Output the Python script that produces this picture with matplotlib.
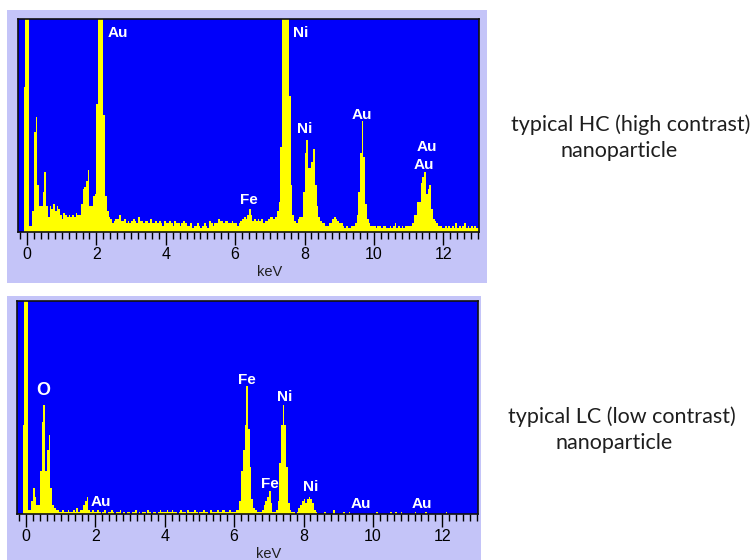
import numpy as np
import matplotlib
matplotlib.use("Agg")
import matplotlib.pyplot as plt
from matplotlib.patches import Rectangle
from matplotlib.ticker import MultipleLocator

# ---- spectrum data: counts per 0.05 keV channel (left channel edges), % of full scale ----
CHANNEL_START = -0.20
CHANNEL_WIDTH = 0.05

hc_counts = [
    0, 0, 68, 120,                                                          # -0.20 .. -0.05
    120, 3, 3, 10, 47, 54, 22, 12, 12, 19, 28, 12, 7, 12, 11, 13, 10, 12, 11, 8,   # 0
    6, 9, 8, 7, 8, 7, 8, 7, 9, 8, 8, 13, 20, 21, 24, 29, 12, 12, 17, 18,          # 1
    60, 120, 120, 120, 55, 17, 10, 7, 6, 4, 5, 6, 6, 8, 5, 5, 6, 4, 5, 4,         # 2
    5, 6, 5, 4, 7, 5, 5, 4, 5, 5, 4, 6, 4, 4, 5, 4, 5, 4, 3, 5,                   # 3
    4, 4, 5, 4, 3, 5, 4, 4, 3, 4, 5, 4, 3, 3, 4, 2, 3, 3, 4, 3,                   # 4
    2, 3, 4, 3, 2, 5, 4, 3, 4, 4, 6, 5, 5, 4, 5, 5, 4, 4, 5, 4,                   # 5
    4, 3, 4, 5, 6, 7, 6, 8, 11, 8, 5, 6, 5, 6, 5, 6, 4, 5, 5, 6,                  # 6
    7, 7, 6, 7, 10, 14, 40, 120, 120, 120, 120, 64, 22, 8, 5, 4, 6, 7, 7, 19,     # 7
    37, 43, 30, 30, 33, 39, 22, 12, 7, 5, 4, 4, 3, 3, 4, 4, 6, 7, 6, 5,           # 8
    4, 4, 3, 2, 3, 2, 2, 3, 3, 4, 8, 19, 37, 52, 35, 13, 6, 4, 3, 3,              # 9
    3, 2, 3, 3, 2, 3, 3, 2, 2, 3, 2, 3, 4, 2, 3, 2, 3, 2, 3, 3,                   # 10
    3, 3, 4, 8, 8, 14, 14, 23, 26, 28, 18, 20, 22, 11, 6, 5, 4, 3, 3, 2,          # 11
    2, 3, 2, 3, 2, 3, 2, 4, 2, 3, 2, 3, 4, 2, 3, 2, 3, 2, 3, 2,                   # 12
    2,                                                                      # 13
]

lc_counts = [
    0, 0, 42, 120,                                                          # -0.20 .. -0.05
    120, 2, 2, 6, 12, 8, 4, 4, 20, 43, 51, 20, 30, 37, 12, 4, 3, 2, 2, 1,         # 0
    1, 2, 1, 1, 2, 1, 1, 2, 1, 3, 1, 2, 2, 4, 6, 8, 2, 1, 2, 1,                   # 1
    1, 2, 1, 0, 1, 2, 0, 1, 1, 2, 1, 0, 1, 1, 2, 0, 1, 0, 1, 1,                   # 2
    0, 1, 1, 2, 0, 1, 0, 1, 1, 0, 2, 1, 0, 1, 1, 0, 1, 2, 1, 1,                   # 3
    1, 2, 1, 1, 2, 1, 1, 0, 1, 2, 1, 1, 0, 2, 1, 1, 1, 2, 1, 0,                   # 4
    1, 1, 2, 1, 1, 0, 2, 1, 1, 1, 2, 1, 1, 2, 2, 1, 1, 2, 1, 1,                   # 5
    1, 2, 2, 6, 20, 30, 42, 60, 40, 22, 7, 3, 2, 1, 1, 1, 2, 4, 6, 8,             # 6
    11, 5, 1, 1, 2, 6, 24, 42, 51, 42, 22, 5, 2, 1, 1, 0, 1, 3, 4, 6,             # 7
    7, 5, 7, 8, 7, 5, 2, 1, 0, 0, 0, 0, 1, 0, 0, 0, 0, 2, 0, 0,                   # 8
    0, 0, 0, 1, 0, 0, 1, 0, 0, 0, 0, 0, 0, 0, 0, 0, 0, 0, 0, 0,                   # 9
    0, 0, 1, 0, 0, 0, 0, 0, 0, 0, 1, 0, 0, 1, 0, 0, 1, 0, 0, 0,                   # 10
    0, 0, 0, 0, 1, 0, 0, 0, 0, 0, 1, 0, 0, 0, 0, 0, 0, 0, 0, 0,                   # 11
    0, 0, 1, 0, 0, 0, 0, 0, 0, 0, 0, 0, 0, 0, 0, 0, 0, 0, 0, 0,                   # 12
    0,                                                                      # 13
]

# ---- peak labels: (text, keV, height %) ----
hc_labels = ["Au", "Ni", "Ni", "Fe", "Au", "Au", "Au"]
hc_label_x = [2.61, 7.90, 8.01, 6.40, 9.65, 11.54, 11.43]
hc_label_y = [93.5, 93.5, 48.5, 15.0, 55.0, 40.0, 31.5]

lc_labels = ["O", "Au", "Fe", "Ni", "Fe", "Ni", "Au", "Au"]
lc_label_x = [0.50, 2.16, 6.37, 7.47, 7.02, 8.20, 9.65, 11.40]
lc_label_y = [58.0, 5.6, 63.0, 55.0, 14.0, 12.5, 4.7, 4.7]

tick_values = [0, 2, 4, 6, 8, 10, 12]
tick_labels = ["0", "2", "4", "6", "8", "10", "12"]

captions = [("typical HC (high contrast)", "nanoparticle"),
            ("typical LC (low contrast)", "nanoparticle")]

# ---- style ----
W, H = 756, 560
BLUE = "#0000FA"
YELLOW = "#FFFF00"
FRAME = "#C4C4F8"
TEXT = "#1E1E1E"
XLIM = (-0.26, 13.03)


def fx(px):
    return px / W


def fy(py):
    return 1 - py / H


fig = plt.figure(figsize=(W / 100, H / 100), dpi=100)
fig.patch.set_facecolor("white")

# lavender panels behind each spectrum
fig.add_artist(Rectangle((fx(7), fy(283)), fx(487) - fx(7), fy(10) - fy(283),
                         transform=fig.transFigure, facecolor=FRAME,
                         edgecolor="none", zorder=0))
fig.add_artist(Rectangle((fx(7), fy(575)), fx(481) - fx(7), fy(296) - fy(575),
                         transform=fig.transFigure, facecolor=FRAME,
                         edgecolor="none", zorder=0))


def spectrum_axes(left, top, right, bottom, counts, labels, lx, ly, label_sizes):
    ax = fig.add_axes([fx(left), fy(bottom), fx(right) - fx(left), fy(top) - fy(bottom)])
    ax.set_facecolor(BLUE)
    edges = np.round(CHANNEL_START + CHANNEL_WIDTH * np.arange(len(counts) + 1), 3)
    ax.stairs(counts, edges, fill=True, color=YELLOW, baseline=0, linewidth=0)
    ax.set_xlim(*XLIM)
    ax.set_ylim(0, 100)
    ax.set_yticks([])
    ax.set_xticks(tick_values)
    ax.set_xticklabels(tick_labels, fontfamily="Liberation Sans", fontsize=11.5)
    ax.xaxis.set_minor_locator(MultipleLocator(0.2))
    ax.tick_params(axis="x", which="major", direction="out", length=9, width=1,
                   color="black", pad=2)
    ax.tick_params(axis="x", which="minor", direction="out", length=5, width=1,
                   color="black")
    for s in ax.spines.values():
        s.set_color("#101010")
        s.set_linewidth(1.2)
    for t, x, y, fs in zip(labels, lx, ly, label_sizes):
        ax.text(x, y, t, color="white", fontweight="bold", fontsize=fs,
                fontfamily="Liberation Sans", ha="center", va="center")
    return ax


spectrum_axes(18, 19, 479, 232, hc_counts, hc_labels, hc_label_x, hc_label_y,
              [11] * len(hc_labels))
spectrum_axes(17, 301, 478, 514, lc_counts, lc_labels, lc_label_x, lc_label_y,
              [13] + [11] * (len(lc_labels) - 1))

# axis titles
fig.text(fx(270), fy(272), "keV", ha="center", va="center", fontsize=10.5,
         fontfamily="Liberation Sans", color="#202020")
fig.text(fx(269), fy(554), "keV", ha="center", va="center", fontsize=10.5,
         fontfamily="Liberation Sans", color="#202020")

# captions to the right of each spectrum
CAPTION_SIZE = 15.5
fig.text(fx(631), fy(125), captions[0][0], ha="center", va="center",
         fontsize=CAPTION_SIZE, fontfamily="Lato", color=TEXT)
fig.text(fx(619), fy(151), captions[0][1], ha="center", va="center",
         fontsize=CAPTION_SIZE, fontfamily="Lato", color=TEXT)
fig.text(fx(622), fy(417), captions[1][0], ha="center", va="center",
         fontsize=CAPTION_SIZE, fontfamily="Lato", color=TEXT)
fig.text(fx(614), fy(443), captions[1][1], ha="center", va="center",
         fontsize=CAPTION_SIZE, fontfamily="Lato", color=TEXT)

fig.savefig("out.png", dpi=100)
